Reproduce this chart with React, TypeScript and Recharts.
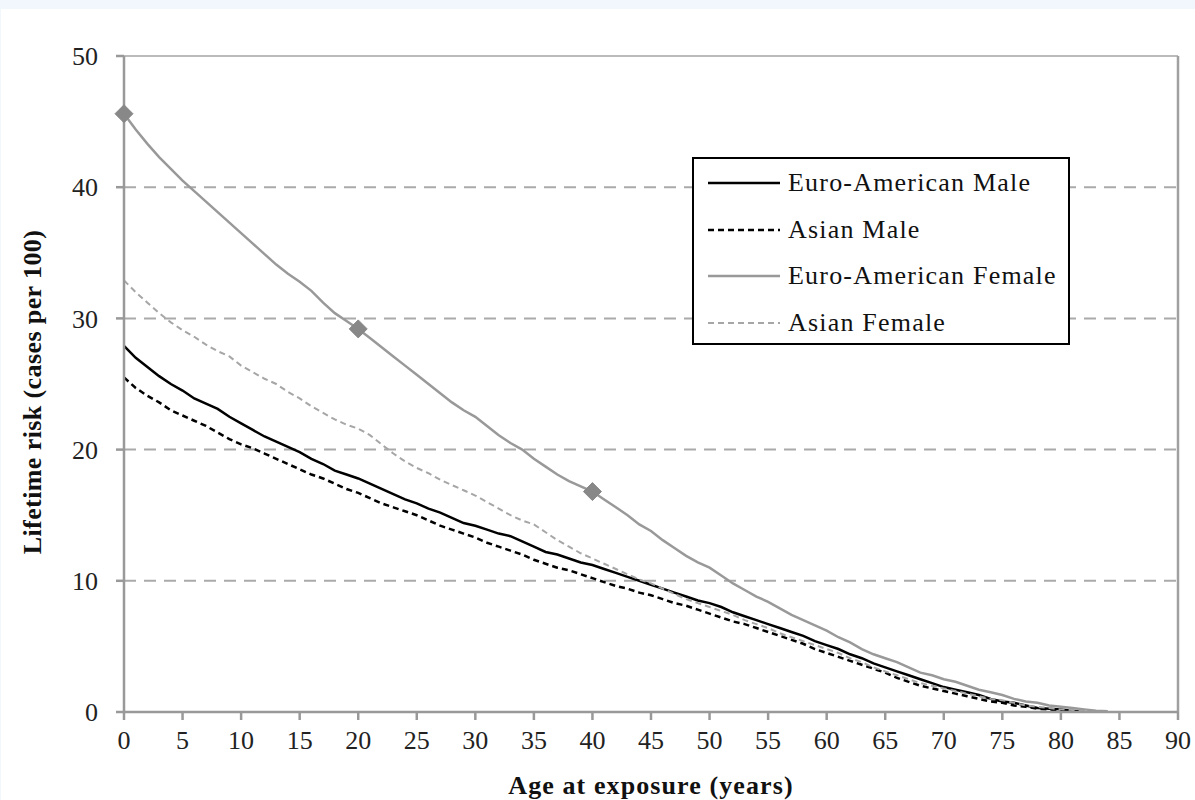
import React from 'react';
import { LineChart, Line, XAxis, YAxis, CartesianGrid, ReferenceLine } from 'recharts';

const ages = Array.from({ length: 85 }, (_, i) => i);

const euroMale = [27.9, 27.0, 26.3, 25.6, 25.0, 24.5, 23.9, 23.5, 23.1, 22.5, 22.0, 21.5, 21.0, 20.6, 20.2, 19.8, 19.3, 18.9, 18.4, 18.1, 17.8, 17.4, 17.0, 16.6, 16.2, 15.9, 15.5, 15.2, 14.8, 14.4, 14.2, 13.9, 13.6, 13.4, 13.0, 12.6, 12.2, 12.0, 11.7, 11.4, 11.2, 10.9, 10.6, 10.3, 10.0, 9.7, 9.4, 9.1, 8.8, 8.5, 8.3, 8.0, 7.6, 7.3, 7.0, 6.7, 6.4, 6.1, 5.8, 5.4, 5.1, 4.8, 4.4, 4.1, 3.7, 3.4, 3.1, 2.8, 2.5, 2.2, 1.9, 1.7, 1.5, 1.3, 1.0, 0.8, 0.7, 0.5, 0.3, 0.25, 0.2, 0.1, 0.05];

const asianMale = [25.5, 24.7, 24.1, 23.6, 23.0, 22.6, 22.2, 21.8, 21.3, 20.8, 20.4, 20.1, 19.7, 19.3, 18.9, 18.5, 18.1, 17.8, 17.4, 17.0, 16.7, 16.3, 15.9, 15.6, 15.3, 15.0, 14.6, 14.2, 13.9, 13.6, 13.3, 12.9, 12.6, 12.3, 12.0, 11.6, 11.3, 11.0, 10.8, 10.5, 10.2, 9.9, 9.6, 9.4, 9.1, 8.9, 8.6, 8.3, 8.1, 7.8, 7.5, 7.2, 6.9, 6.7, 6.4, 6.1, 5.8, 5.5, 5.2, 4.8, 4.5, 4.2, 3.9, 3.6, 3.3, 3.0, 2.6, 2.3, 2.0, 1.8, 1.6, 1.4, 1.2, 1.0, 0.8, 0.7, 0.5, 0.4, 0.25, 0.2, 0.1, 0.05];

const euroFemale = [45.6, 44.4, 43.3, 42.3, 41.4, 40.5, 39.7, 38.9, 38.1, 37.3, 36.5, 35.7, 34.9, 34.1, 33.4, 32.8, 32.1, 31.2, 30.4, 29.8, 29.2, 28.5, 27.8, 27.1, 26.4, 25.7, 25.0, 24.3, 23.6, 23.0, 22.5, 21.8, 21.1, 20.5, 20.0, 19.3, 18.7, 18.1, 17.6, 17.2, 16.8, 16.2, 15.6, 15.0, 14.3, 13.8, 13.1, 12.5, 11.9, 11.4, 11.0, 10.4, 9.8, 9.3, 8.8, 8.4, 7.9, 7.4, 7.0, 6.6, 6.2, 5.7, 5.3, 4.8, 4.4, 4.1, 3.8, 3.4, 3.0, 2.8, 2.5, 2.3, 2.0, 1.7, 1.5, 1.3, 1.0, 0.8, 0.7, 0.5, 0.4, 0.3, 0.2, 0.1, 0.05];

const asianFemale = [32.9, 32.0, 31.2, 30.4, 29.7, 29.1, 28.6, 28.0, 27.5, 27.1, 26.4, 25.9, 25.4, 25.0, 24.4, 23.9, 23.3, 22.8, 22.3, 21.9, 21.6, 21.1, 20.4, 19.7, 19.1, 18.6, 18.2, 17.7, 17.3, 16.9, 16.5, 16.0, 15.5, 15.0, 14.6, 14.3, 13.7, 13.1, 12.6, 12.1, 11.7, 11.3, 10.9, 10.5, 10.1, 9.8, 9.4, 9.0, 8.6, 8.3, 8.0, 7.7, 7.4, 7.0, 6.7, 6.4, 6.0, 5.7, 5.4, 5.1, 4.8, 4.5, 4.1, 3.8, 3.4, 3.1, 2.8, 2.5, 2.2, 2.0, 1.8, 1.6, 1.4, 1.2, 1.0, 0.9, 0.7, 0.5, 0.4, 0.3, 0.2, 0.15, 0.1, 0.05];

const markerAges = [0, 20, 40];
const xTicks = [0, 5, 10, 15, 20, 25, 30, 35, 40, 45, 50, 55, 60, 65, 70, 75, 80, 85, 90];
const yTicks = [0, 10, 20, 30, 40, 50];

const seriesInfo = [
  { key: 'eam', name: 'Euro-American Male', color: '#000000', dash: undefined as string | undefined, width: 2.5 },
  { key: 'am', name: 'Asian Male', color: '#000000', dash: '6 4', width: 2.5 },
  { key: 'eaf', name: 'Euro-American Female', color: '#999999', dash: undefined as string | undefined, width: 2.5 },
  { key: 'af', name: 'Asian Female', color: '#a6a6a6', dash: '6 4', width: 2 },
];

const data = ages.map((age, i) => ({
  age,
  eam: euroMale[i],
  am: asianMale[i],
  eaf: euroFemale[i],
  af: asianFemale[i],
}));

const FONT = 'Liberation Serif';

const DiamondDot = (props: any) => {
  const { cx, cy, payload, index } = props;
  if (!payload || !markerAges.includes(payload.age) || cx == null || cy == null) {
    return <g key={`d-${index}`} />;
  }
  const r = 9;
  return (
    <path
      key={`d-${index}`}
      d={`M${cx},${cy - r} L${cx + r},${cy} L${cx},${cy + r} L${cx - r},${cy} Z`}
      fill="#888888"
      stroke="#888888"
      strokeWidth={1}
    />
  );
};

const LegendBox = () => (
  <div
    style={{
      position: 'absolute',
      left: 692,
      top: 157,
      width: 374,
      height: 184,
      border: '2px solid #000',
      background: '#fff',
      fontFamily: FONT,
    }}
  >
    {seriesInfo.map((s, i) => {
      const cy = [24, 71, 117, 164][i];
      return (
        <div key={s.key} style={{ position: 'absolute', left: 0, top: cy - 20, height: 40, width: 374 }}>
          <svg width={80} height={40} style={{ position: 'absolute', left: 14, top: 0 }}>
            <line x1={0} y1={20} x2={72} y2={20} stroke={s.color} strokeWidth={s.width} strokeDasharray={s.dash} />
          </svg>
          <span
            style={{
              position: 'absolute',
              left: 94,
              top: 0,
              lineHeight: '40px',
              fontSize: 26,
              color: '#111',
              whiteSpace: 'nowrap',
              letterSpacing: 1.2,
            }}
          >
            {s.name}
          </span>
        </div>
      );
    })}
  </div>
);

const YTitle = () => (
  <text
    x={32}
    y={392}
    transform="rotate(-90 32 392)"
    textAnchor="middle"
    dominantBaseline="central"
    fontFamily={FONT}
    fontSize={26}
    fontWeight="bold"
    letterSpacing={0.4}
    fill="#111"
  >
    Lifetime risk (cases per 100)
  </text>
);

const XTitle = () => (
  <text x={651} y={794} textAnchor="middle" fontFamily={FONT} fontSize={26} fontWeight="bold" letterSpacing={1.1} fill="#111">
    Age at exposure (years)
  </text>
);

export default function App() {
  return (
    <div style={{ position: 'absolute', left: 0, top: 0, width: 1195, height: 800, background: '#ffffff', fontFamily: FONT }}>
      <div style={{ position: 'absolute', left: 0, top: 0, width: 1195, height: 9, background: '#f2f6fd' }} />
      <div style={{ position: 'absolute', left: 0, top: 0, width: 1, height: 800, background: '#f2f6fd' }} />
      <LineChart
        width={1195}
        height={800}
        data={data}
        margin={{ top: 56, right: 17, bottom: 58, left: 64 }}
        style={{ fontFamily: FONT }}
      >
        <CartesianGrid vertical={false} stroke="#aaaaaa" strokeWidth={2} strokeDasharray="12 8" />
        <ReferenceLine y={50} stroke="#bbbbbb" strokeWidth={2} />
        <ReferenceLine x={90} stroke="#a0a0a0" strokeWidth={2.5} />
        <XAxis
          dataKey="age"
          type="number"
          domain={[0, 90]}
          ticks={xTicks}
          interval={0}
          height={30}
          tickSize={8}
          tickMargin={11}
          axisLine={{ stroke: '#999999', strokeWidth: 2.5 }}
          tickLine={{ stroke: '#999999', strokeWidth: 2.5 }}
          tick={{ fill: '#222', fontSize: 26, fontFamily: FONT }}
          label={<XTitle />}
        />
        <YAxis
          type="number"
          domain={[0, 50]}
          ticks={yTicks}
          interval={0}
          width={60}
          tickSize={8}
          tickMargin={18}
          axisLine={{ stroke: '#999999', strokeWidth: 2.5 }}
          tickLine={{ stroke: '#999999', strokeWidth: 2.5 }}
          tick={{ fill: '#222', fontSize: 26, fontFamily: FONT }}
          label={<YTitle />}
        />
        <Line type="linear" dataKey="eam" name="Euro-American Male" stroke="#000" strokeWidth={2.5} dot={false} isAnimationActive={false} />
        <Line type="linear" dataKey="am" name="Asian Male" stroke="#000" strokeWidth={2.5} strokeDasharray="6 4" dot={false} isAnimationActive={false} />
        <Line type="linear" dataKey="af" name="Asian Female" stroke="#a6a6a6" strokeWidth={2} strokeDasharray="6 4" dot={false} isAnimationActive={false} />
        <Line type="linear" dataKey="eaf" name="Euro-American Female" stroke="#999999" strokeWidth={2.5} dot={<DiamondDot />} isAnimationActive={false} />
      </LineChart>
      <LegendBox />
    </div>
  );
}
